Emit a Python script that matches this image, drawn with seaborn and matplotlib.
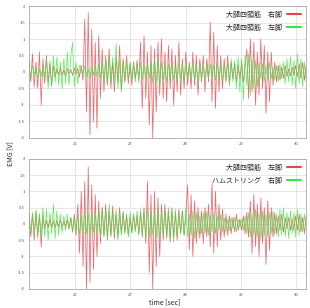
import numpy as np
import pandas as pd
import matplotlib
matplotlib.use("Agg")
import matplotlib.pyplot as plt
import seaborn as sns

# time axis [sec]
t_start, t_end, n_pts = 25.17, 30.18, 160
x_ticks = [26, 27, 28, 29, 30]
y_ticks = [-2, -1.5, -1, -0.5, 0, 0.5, 1, 1.5, 2]

top_labels = ["大腿四頭筋　右脚", "大腿四頭筋　左脚"]
bottom_labels = ["大腿四頭筋　左脚", "ハムストリング　右脚"]

top_red = [
    0.35, -0.3, 0.55, -0.45, 0.3, -0.5, 0.6, -1.0, 0.4, -0.35, 0.5, -0.3, 0.25, -0.4, 0.2, -0.15,
    0.1, -0.08, 0.12, -0.1, 0.06, -0.12, 0.1, -0.05, 0.08, -0.1, 0.12, -0.06, 0.1, -0.15, 0.2, -0.25,
    1.6, -1.2, 1.8, -1.9, 1.3, -1.5, 0.9, -1.7, 1.1, -0.8, 0.7,
    -0.6, 0.5, -0.4, 0.7, -0.5, 0.3, -0.6, 0.45, -0.3, 0.8, -0.55, 0.4, -0.3, 0.5, -0.35, 0.25, -0.4, 0.3, -0.2, 0.35, -0.3,
    0.9, -1.1, 1.1, -0.8, 0.6, -1.6, 0.8, -2.0, 0.7, -1.2, 0.9, -0.7,
    1.0, -0.8, 0.6, -0.9, 0.8, -0.5, 0.7, -1.0, 0.5, -0.6, 0.9, -0.7, 0.4, -0.5, 0.6, -0.4, 0.3,
    -0.5, 0.6, -0.4, 0.5, -0.7, 0.4, -0.3, 0.5, -0.6, 0.4, -0.3,
    1.5, -0.9, 1.2, -1.1, 0.8, -0.6, 0.5,
    -0.5, 0.4, -0.3, 0.5, -0.4, 0.3, -0.2, 0.25, -0.3, 0.2, -0.2, 0.3, -0.3, 0.2,
    0.7, -0.8, 1.0, -0.6, 0.9, -1.0, 0.6, -0.7, 1.0, -0.5, 0.8, -1.25, 0.6, -0.9,
    0.6, -0.4, 0.3, -0.3, 0.2, -0.25, 0.15, -0.2, 0.2, -0.15, 0.1, -0.12, 0.15, -0.1, 0.2, -0.15, 0.25, -0.2, 0.3, -0.25, 0.2,
]
top_green = [
    0.1, -0.15, 0.2, -0.1, 0.15, -0.2, 0.1, -0.15, 0.2, -0.25,
    0.4, -0.5, 0.35, -0.45, 0.5, -0.3, 0.45, -0.4, 0.3, -0.5, 0.4, -0.35, 0.6, -0.4, 0.5, 0.9, -0.45, 0.3, -0.35, 0.2,
    0.15, -0.1, 0.2, -0.15, 0.1, -0.2, 0.15, -0.1, 0.2, -0.15, 0.25, -0.2, 0.3, -0.25, 0.35,
    -0.4, 0.5, -0.3, 0.45, -0.35, 0.85, -0.5, 0.4, -0.6, 0.35, -0.3, 0.3,
    -0.25, 0.3, -0.2, 0.25, -0.3, 0.2, -0.2, 0.3, -0.25, 0.2, -0.15, 0.25, -0.2, 0.3, -0.35, 0.4, -0.3, 0.35, -0.4, 0.3, -0.25, 0.2, -0.3, 0.25,
    -0.2, 0.3, -0.25, 0.2, -0.3, 0.35, -0.2, 0.25, -0.3, 0.2, -0.15, 0.25, -0.2, 0.3, -0.25, 0.2, -0.3, 0.25, -0.2, 0.15,
    -0.25, 0.3, -0.2, 0.25, -0.15, 0.2, -0.25, 0.3, -0.2, 0.25, -0.3, 0.2, -0.25, 0.3, -0.35, 0.4, -0.3, 0.35,
    -0.5, 0.45, -0.6, 0.4, -0.85, 0.5, -0.4, 0.55, -0.7, 0.4, -0.5, 0.35, -0.45, 0.3,
    -0.2, 0.25, -0.3, 0.2, -0.25, 0.3, -0.2, 0.15, -0.25, 0.2, -0.3, 0.25, -0.2, 0.3,
    -0.35, 0.4, -0.3, 0.45, -0.4, 0.35, -0.5, 0.55, -0.35, 0.4, -0.45, 0.3, -0.3,
]
bottom_red = [
    0.35, -0.4, 0.3, -0.5, 0.4, -0.35, 0.3, -0.7, 0.25,
    -0.15, 0.1, -0.12, 0.15, -0.1, 0.08, -0.12, 0.1, -0.08, 0.12, -0.1, 0.08, -0.1, 0.12, -0.15, 0.2, -0.25, 0.3, -0.35,
    0.6, -0.9, 1.0, -1.3, 1.3, -2.0, 1.75, -1.8, 1.2, -1.4, 0.9, -1.0, 0.7, -0.6,
    0.5, -0.4, 0.6, -0.5, 0.4, -0.35, 0.55, -0.45, 0.3, -0.4, 0.5, -0.3, 0.35, -0.25, 0.3, -0.35, 0.2, -0.25, 0.3, -0.2, 0.25, -0.3, 0.35, -0.4, 0.5, -0.6,
    1.3, -1.5, 0.9, -2.0, 1.0, -1.3, 0.8, -1.0, 0.6,
    -0.5, 0.6, -0.45, 0.4, -0.55, 0.5, -0.4, 0.35, -0.5, 0.45, -0.3, 0.4, -0.35, 0.3,
    1.2, -0.8, 0.9, -1.0, 0.7, -0.6,
    0.5, -0.45, 0.4, -0.6, 0.5, -0.4, 0.6, -0.7, 1.25,
    -0.9, 1.0, -0.7, 0.6, -0.5, 0.45, -0.4, 0.3, -0.35,
    0.25, -0.3, 0.2, -0.25, 0.3, -0.2, 0.15, -0.2, 0.25, -0.3, 0.35, -0.4,
    0.7, -0.9, 0.9, -0.7, 0.6, -1.0, 0.8, -0.6, 0.5, -1.25, 0.7, -0.8, 0.5, -0.4,
    0.35, -0.3, 0.25, -0.2, 0.3, -0.25, 0.2, -0.15, 0.2, -0.2, 0.15, -0.2, 0.25, -0.2, 0.3, -0.25, 0.2, -0.3, 0.25,
]
bottom_green = [
    0.2, -0.3, 0.35, -0.25, 0.4, -0.45, 0.3, -0.35, 0.5, -0.4, 0.45, -0.5, 0.35, -0.3, 0.6, -0.45, 0.4, -0.35, 0.3, -0.25,
    0.25, -0.2, 0.3, -0.15, 0.2, -0.25, 0.15, -0.2, 0.3, -0.35, 0.25, -0.3, 0.4, -0.3, 0.35, -0.4, 0.3, -0.25, 0.35, -0.3,
    0.45, -0.4, 0.5, -0.35, 0.4, -0.45, 0.6, -0.4, 0.35, -0.3, 0.45, -0.5, 0.3, -0.35, 0.4, -0.3, 0.25, -0.4, 0.35, -0.3,
    0.3, -0.25, 0.4, -0.35, 0.45, -0.3, 0.35, -0.4, 0.5, -0.45, 0.4, -0.35, 0.3, -0.4, 0.45, -0.5, 0.35, -0.3, 0.4, -0.35,
    0.5, -0.45, 0.4, -0.55, 0.45, -0.4, 0.35, -0.3, 0.4, -0.35, 0.5, -0.4, 0.3, -0.35, 0.4, -0.45, 0.35, -0.3, 0.25, -0.3,
    0.35, -0.3, 0.4, -0.35, 0.3, -0.25, 0.35, -0.3, 0.25, -0.2, 0.3, -0.25, 0.2, -0.25, 0.15, -0.2, 0.2, -0.15, 0.2, -0.25,
    0.15, -0.1, 0.15, -0.2, 0.25, -0.3, 0.35, -0.4, 0.3, -0.35, 0.45, -0.4, 0.35, -0.5, 0.4, -0.35, 0.3, -0.4, 0.35, -0.3,
    0.4, -0.35, 0.3, -0.4, 0.45, -0.35, 0.5, -0.4, 0.35, -0.45, 0.4, -0.3, 0.35, -0.4, 0.45, -0.35, 0.3, -0.25, 0.3, -0.2,
]

time = np.linspace(t_start, t_end, n_pts)

sns.set_style("white")
plt.rcParams['font.family'] = ['Noto Sans CJK JP', 'DejaVu Sans']

red = "#e8444a"
green = "#3ce63c"

fig = plt.figure(figsize=(3.10, 3.08), dpi=100)
ax1 = fig.add_axes([0.0935, 0.552, 0.894, 0.4285])
ax2 = fig.add_axes([0.0935, 0.062, 0.894, 0.422])


def draw_panel(ax, red_vals, green_vals, labels):
    df = pd.DataFrame({
        "time": np.concatenate([time, time]),
        "EMG": np.concatenate([red_vals, green_vals]),
        "series": [labels[0]] * n_pts + [labels[1]] * n_pts,
    })
    sns.lineplot(data=df, x="time", y="EMG", hue="series", hue_order=labels,
                 palette=[red, green], linewidth=0.55, alpha=0.8, ax=ax,
                 estimator=None, sort=False)
    ax.set_xlim(t_start, t_end)
    ax.set_ylim(-2, 2)
    ax.set_xticks(x_ticks)
    ax.set_yticks(y_ticks)
    ax.set_yticklabels([f"{v:g}" for v in y_ticks])
    ax.grid(True, color="#dcdcdc", linewidth=0.5)
    ax.tick_params(labelsize=3, length=1.5, width=0.4, pad=1.5, colors="#555555")
    for s in ax.spines.values():
        s.set_color("#999999")
        s.set_linewidth(0.5)
    ax.set_xlabel("")
    ax.set_ylabel("")
    leg = ax.legend(loc="upper right", frameon=False, markerfirst=False,
                    fontsize=5, handlelength=2.0, borderaxespad=0.3,
                    labelspacing=0.7)
    for line in leg.get_lines():
        line.set_linewidth(1.5)
        line.set_alpha(1)


draw_panel(ax1, top_red, top_green, top_labels)
draw_panel(ax2, bottom_red, bottom_green, bottom_labels)

fig.text(0.032, 0.5, "EMG [V]", rotation=90, ha="center", va="center", fontsize=5)
fig.text(0.53, 0.018, "time [sec]", ha="center", va="center", fontsize=5)

fig.savefig("out.png", dpi=100)
